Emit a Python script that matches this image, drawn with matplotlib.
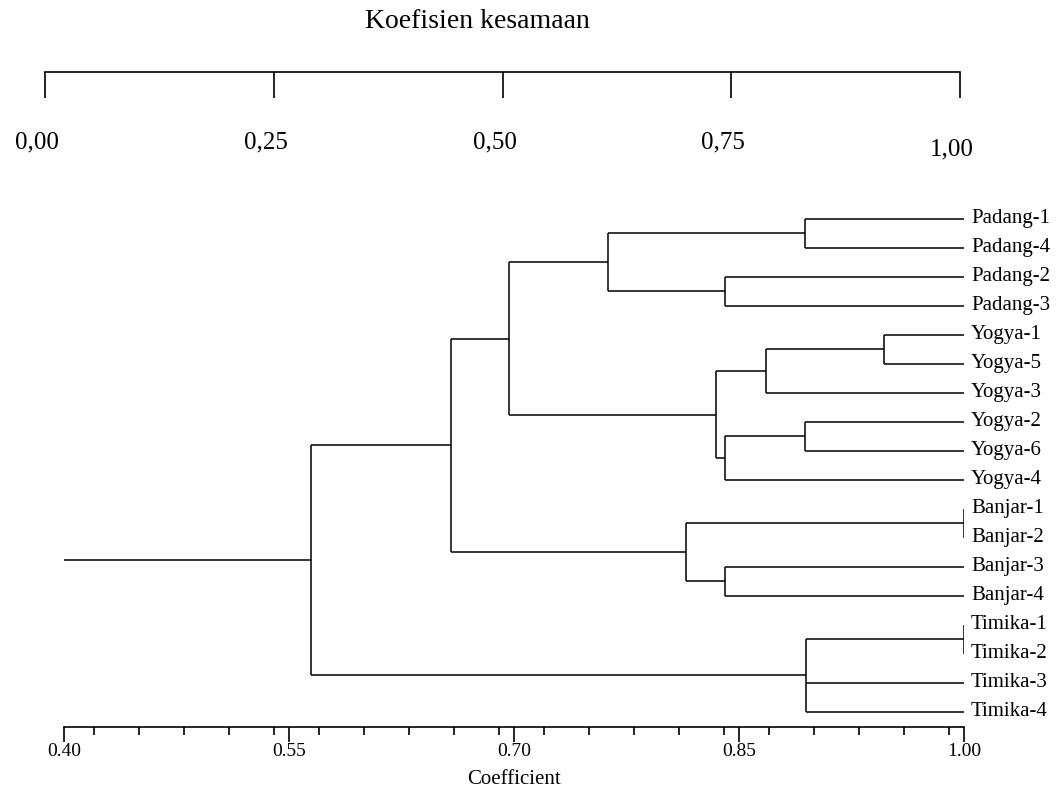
import matplotlib
matplotlib.use("Agg")
import matplotlib.pyplot as plt
import matplotlib.transforms as mtransforms
from matplotlib.ticker import MultipleLocator, FixedLocator

plt.rcParams['font.family'] = ['Liberation Serif', 'DejaVu Serif']

# leaf order as drawn, top to bottom
leaves = ['Padang-1', 'Padang-4', 'Padang-2', 'Padang-3',
          'Yogya-1', 'Yogya-5', 'Yogya-3', 'Yogya-2', 'Yogya-6', 'Yogya-4',
          'Banjar-1', 'Banjar-2', 'Banjar-3', 'Banjar-4',
          'Timika-1', 'Timika-2', 'Timika-3', 'Timika-4']

# merges: children ids (leaves 0..17, merges 18..) and similarity level
merge_children = [
    [0, 1],        # 18 Padang-1/4
    [2, 3],        # 19 Padang-2/3
    [18, 19],      # 20 Padang
    [4, 5],        # 21 Yogya-1/5
    [21, 6],       # 22 Yogya-1/5/3
    [7, 8],        # 23 Yogya-2/6
    [23, 9],       # 24 Yogya-2/6/4
    [22, 24],      # 25 Yogya
    [20, 25],      # 26 Padang+Yogya
    [10, 11],      # 27 Banjar-1/2
    [12, 13],      # 28 Banjar-3/4
    [27, 28],      # 29 Banjar
    [26, 29],      # 30 Padang+Yogya+Banjar
    [14, 15],      # 31 Timika-1/2
    [31, 16, 17],  # 32 Timika
    [30, 32],      # 33 root
]
merge_heights = [0.894, 0.841, 0.763, 0.947, 0.868, 0.894, 0.841, 0.835,
                 0.697, 1.00, 0.841, 0.815, 0.658, 1.00, 0.895, 0.565]

bottom_ticks = [0.40, 0.55, 0.70, 0.85, 1.00]
top_ticks = [0.00, 0.25, 0.50, 0.75, 1.00]
top_labels = ['0,00', '0,25', '0,50', '0,75', '1,00']

W, H = 1062, 790
fig = plt.figure(figsize=(W / 100, H / 100), dpi=100)

# main dendrogram axes
spacing = 28.98
y_first = 219
y_axis = 726.5
ax = fig.add_axes([64 / W, (H - y_axis) / H, 900 / W, (y_axis - (y_first - spacing / 2)) / H])
ax.set_xlim(0.40, 1.00)
ax.set_ylim((y_axis - y_first) / spacing, -0.5)

lw = 1.1
xs = {i: 1.0 for i in range(len(leaves))}
ys = {i: float(i) for i in range(len(leaves))}
for k, (kids, h) in enumerate(zip(merge_children, merge_heights)):
    nid = len(leaves) + k
    kid_y = [ys[c] for c in kids]
    for c in kids:
        ax.plot([h, xs[c]], [ys[c], ys[c]], color='black', lw=lw, solid_capstyle='butt')
    ax.plot([h, h], [min(kid_y), max(kid_y)], color='black', lw=lw, solid_capstyle='butt')
    xs[nid] = h
    ys[nid] = (min(kid_y) + max(kid_y)) / 2

root = len(leaves) + len(merge_children) - 1
ax.plot([0.40, xs[root]], [ys[root], ys[root]], color='black', lw=lw)

for i, name in enumerate(leaves):
    ax.annotate(name, (1.0, i), xytext=(5, 0), textcoords='offset points',
                ha='left', va='center', fontsize=15, annotation_clip=False)

for s in ['top', 'right', 'left']:
    ax.spines[s].set_visible(False)
ax.spines['bottom'].set_linewidth(1.2)
ax.set_yticks([])
ax.xaxis.set_major_locator(FixedLocator(bottom_ticks))
ax.xaxis.set_minor_locator(MultipleLocator(0.03))
ax.set_xticklabels(['%.2f' % t for t in bottom_ticks])
ax.tick_params(axis='x', which='major', direction='out', length=11, width=1.2,
               pad=1, labelsize=14)
ax.tick_params(axis='x', which='minor', direction='out', length=6, width=1.2)
fig.text(514 / W, 1 - 779 / H, 'Coefficient', ha='center', va='center', fontsize=15)

# top similarity scale
ax2 = fig.add_axes([45 / W, (H - 72) / H, 915 / W, 0.001])
ax2.set_xlim(0, 1)
for s in ['top', 'right', 'left']:
    ax2.spines[s].set_visible(False)
ax2.spines['bottom'].set_linewidth(1.2)
ax2.set_yticks([])
ax2.set_xticks(top_ticks)
ax2.set_xticklabels(top_labels)
ax2.tick_params(axis='x', direction='out', length=19, width=1.2, pad=24, labelsize=18)
ax2.patch.set_visible(False)
for lab in ax2.get_xticklabels():
    dy = -7 if lab.get_text() == '1,00' else 0
    lab.set_transform(lab.get_transform() +
                      mtransforms.ScaledTranslation(-8 / 100, dy / 100, fig.dpi_scale_trans))

fig.text(477 / W, 1 - 22 / H, 'Koefisien kesamaan', ha='center', va='center', fontsize=20)

fig.savefig('out.png', dpi=100)
